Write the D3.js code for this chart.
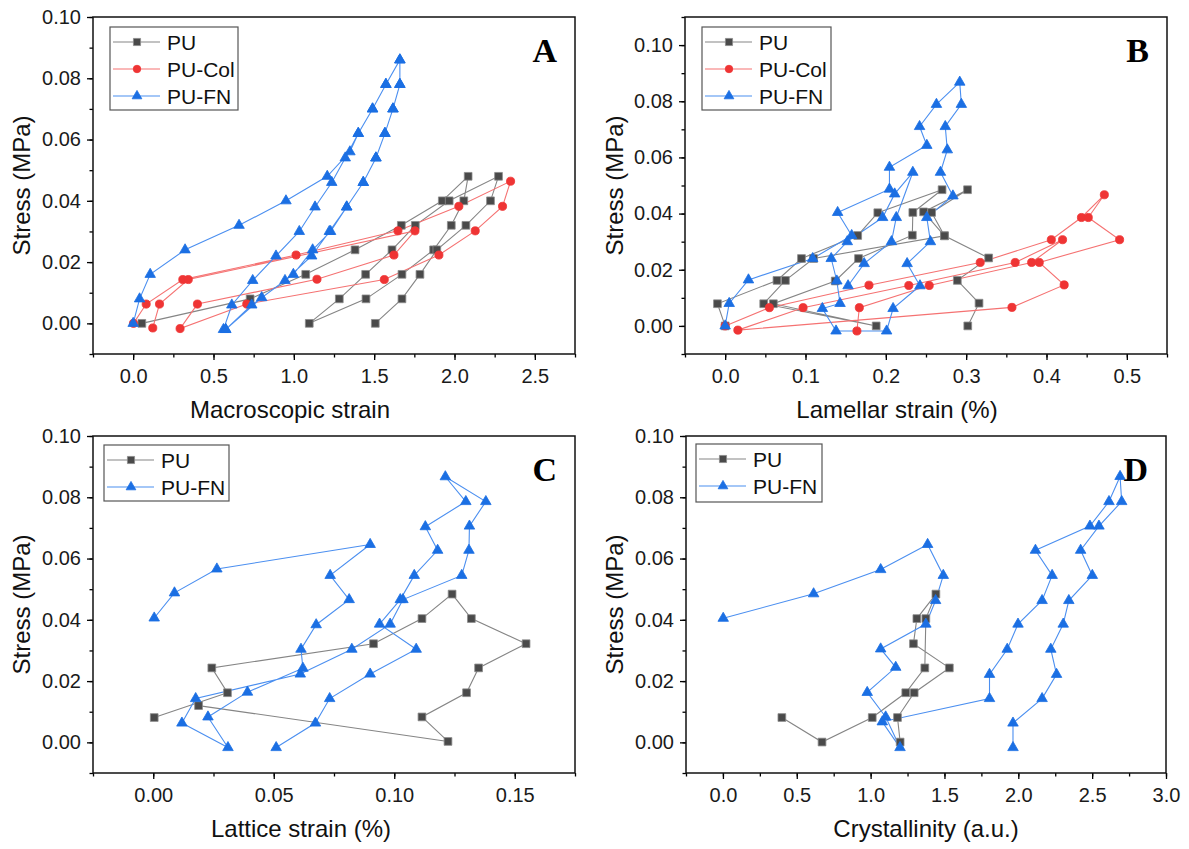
<!DOCTYPE html>
<html>
<head>
<meta charset="utf-8">
<script src="https://cdn.jsdelivr.net/npm/d3@7"></script>
<style>
body { margin: 0; background: #fff; }
text { font-family: Arial, "Liberation Sans", sans-serif; }
</style>
</head>
<body>
<svg id="fig" width="1189" height="849"></svg>
<script>
// ---- data: [x, stress] pairs, in drawing order ----
var puA = [[0.054,0],[0.728,0.008],[1.074,0.016],[1.381,0.024],[1.669,0.032],[1.924,0.040],[2.085,0.048],
	[2.058,0.040],[1.98,0.032],[1.87,0.024],[1.673,0.016],[1.449,0.008],[1.096,0],
	[1.283,0.008],[1.447,0.016],[1.611,0.024],[1.756,0.032],[1.967,0.040],[2.274,0.048],
	[2.224,0.040],[2.071,0.032],[1.89,0.024],[1.785,0.016],[1.673,0.008],[1.507,0]];
var colA = [[0.002,0],[0.081,0.0063],[0.309,0.0143],[1.014,0.0223],[1.648,0.0302],[2.027,0.0382],[2.349,0.0464],
	[2.299,0.0382],[2.129,0.0302],[1.903,0.0223],[1.563,0.0143],[0.707,0.0063],[0.292,-0.0017],
	[0.400,0.0063],[1.144,0.0144],[1.623,0.0223],[1.754,0.0302],[0.343,0.0143],[0.164,0.0063],[0.122,-0.0015]];
var fnA = [[0,0],[0.04,0.008],[0.106,0.016],[0.323,0.024],[0.659,0.032],[0.951,0.040],[1.208,0.048],[1.349,0.056],
	[1.401,0.062],[1.49,0.070],[1.573,0.078],[1.66,0.086],
	[1.66,0.078],[1.617,0.070],[1.567,0.062],[1.511,0.054],[1.432,0.046],[1.329,0.038],[1.229,0.030],
	[1.117,0.024],[0.997,0.016],[0.80,0.0084],[0.576,-0.002],
	[0.562,-0.002],[0.614,0.006],[0.744,0.014],[0.889,0.022],[1.034,0.030],[1.132,0.038],[1.236,0.046],
	[1.32,0.054],[1.401,0.062],[1.49,0.070],[1.573,0.078],[1.66,0.086],
	[1.66,0.078],[1.617,0.070],[1.567,0.062],[1.511,0.054],[1.432,0.046],[1.329,0.038],[1.221,0.030],
	[1.111,0.022],[0.945,0.014],[0.738,0.006],[0.576,-0.002]];

var puB = [[0,0],[-0.0096,0.0079],[0.0645,0.0162],[0.095,0.024],[0.165,0.0322],[0.190,0.0403],[0.270,0.0485],
	[0.2336,0.0404],[0.233,0.0323],[0.166,0.024],[0.137,0.016],[0.060,0.0079],[0.188,0],
	[0.048,0.0079],[0.075,0.0162],[0.110,0.024],[0.273,0.0321],[0.247,0.0406],[0.3017,0.0485],
	[0.257,0.0404],[0.273,0.0321],[0.328,0.0242],[0.289,0.0162],[0.316,0.0081],[0.302,0]];
var colB = [[0,0],[0.055,0.0065],[0.179,0.0145],[0.3175,0.0226],[0.406,0.0307],[0.4435,0.0386],[0.472,0.0467],
	[0.452,0.0386],[0.491,0.0307],[0.391,0.0226],[0.422,0.0146],[0.357,0.0066],[0.0158,-0.0015],
	[0.097,0.0065],[0.2286,0.0144],[0.361,0.0226],[0.42,0.0307],[0.3815,0.0226],[0.254,0.0144],[0.167,0.0065],[0.164,-0.0018]];
var fnB = [[0,0],[0.005,0.008],[0.029,0.0164],[0.109,0.024],[0.1575,0.0322],[0.140,0.0404],[0.2045,0.0487],
	[0.2045,0.0565],[0.251,0.0643],[0.242,0.071],[0.263,0.0789],[0.292,0.0868],[0.294,0.0789],[0.274,0.071],
	[0.2765,0.0627],[0.268,0.0547],[0.2835,0.0463],[0.251,0.0386],[0.2555,0.030],[0.2265,0.0222],
	[0.2425,0.0143],[0.209,0.0062],[0.201,-0.0018],[0.138,-0.0018],[0.121,0.0062],[0.143,0.008],
	[0.139,0.016],[0.132,0.024],[0.152,0.030],[0.196,0.0386],[0.211,0.047],[0.2336,0.0547],
	[0.213,0.0386],[0.207,0.030],[0.173,0.0222],[0.153,0.0143]];

var puC = [[0.0004,0.0081],[0.0308,0.0162],[0.0243,0.0243],[0.0914,0.0322],[0.1115,0.0404],[0.124,0.0484],
	[0.132,0.0404],[0.1547,0.0322],[0.135,0.0243],[0.130,0.0162],[0.1115,0.0083],[0.1223,0.0003],[0.0188,0.012]];
var fnC = [[0.051,-0.0017],[0.0673,0.0063],[0.0732,0.0143],[0.090,0.0223],[0.1091,0.0304],[0.0939,0.0386],
	[0.1025,0.0466],[0.1083,0.0545],[0.118,0.0627],[0.1129,0.0704],[0.1297,0.0786],[0.1212,0.0867],
	[0.138,0.0786],[0.1312,0.0706],[0.131,0.0627],[0.128,0.0545],[0.1036,0.0466],[0.0983,0.0386],
	[0.0824,0.0304],[0.061,0.0223],[0.0176,0.0143],[0.0119,0.0063],[0.031,-0.0017],[0.0227,0.0083],
	[0.0391,0.0164],[0.0621,0.0242],[0.0613,0.0304],[0.0676,0.0384],[0.0813,0.0466],[0.0734,0.0545],
	[0.090,0.0646],[0.0264,0.0566],[0.0088,0.0488],[0.0004,0.0406]];

var puD = [[0.399,0.0081],[0.671,0.0001],[1.011,0.0081],[1.238,0.0162],[1.367,0.0243],[1.374,0.0404],
	[1.442,0.0484],[1.313,0.0404],[1.29,0.0322],[1.533,0.0243],[1.295,0.0162],[1.182,0.0081],[1.2,0.0001]];
var fnD = [[0.002,0.0405],[0.614,0.0485],[1.068,0.0564],[1.386,0.0646],[1.492,0.0545],[1.44,0.0463],
	[1.374,0.0386],[1.068,0.0305],[1.17,0.0245],[0.977,0.0163],[1.102,0.0083],[1.199,-0.0017],[1.079,0.0067],
	[1.805,0.0143],[1.805,0.0222],[1.925,0.0304],[1.998,0.0386],[2.161,0.0463],[2.229,0.0545],[2.116,0.0627],
	[2.485,0.0706],[2.614,0.0786],[2.689,0.0868],[2.70,0.0786],[2.546,0.0706],[2.422,0.0627],[2.501,0.0545],
	[2.342,0.0463],[2.304,0.0386],[2.22,0.0304],[2.259,0.0222],[2.161,0.0143],[1.964,0.0063],[1.964,-0.0017]];

var seriesNames = ["PU", "PU-Col", "PU-FN"];
var xTitles = ["Macroscopic strain", "Lamellar strain (%)", "Lattice strain (%)", "Crystallinity (a.u.)"];
var panelLabels = ["A", "B", "C", "D"];
var yTickVals = [0, 0.02, 0.04, 0.06, 0.08, 0.10];

// ---- styles ----
var styles = {
	"PU": {line: "#858585", fill: "#4a4a4a", stroke: "#8c8c8c", shape: d3.symbolSquare, size: 60},
	"PU-Col": {line: "#f57272", fill: "#ef3434", stroke: "#ef3434", shape: d3.symbolCircle, size: 52},
	"PU-FN": {line: "#4b8ff0", fill: "#1b6fe3", stroke: "#1b6fe3", shape: d3.symbolTriangle, size: 48}
};

var panels = [
	{box: [93, 17, 575, 354], xDom: [-0.25, 2.75], yDom: [-0.01, 0.10], xMajor: d3.range(0, 2.51, 0.5), xMinor: 0.25,
		xFmt: ".1f", data: [puA, colA, fnA], names: [0, 1, 2], title: 0, titleX: 290, yTitleX: 22,
		legend: [110, 27, 128, 83]},
	{box: [685, 17, 1167, 354], xDom: [-0.05, 0.55], yDom: [-0.01, 0.11], xMajor: d3.range(0, 0.51, 0.1), xMinor: 0.05,
		xFmt: ".1f", data: [puB, colB, fnB], names: [0, 1, 2], title: 1, titleX: 897, yTitleX: 615,
		legend: [702, 27, 129, 83]},
	{box: [93, 436, 575, 773], xDom: [-0.025, 0.175], yDom: [-0.01, 0.10], xMajor: d3.range(0, 0.151, 0.05), xMinor: 0.025,
		xFmt: ".2f", data: [puC, fnC], names: [0, 2], title: 2, titleX: 301, yTitleX: 22,
		legend: [104, 445, 125, 56]},
	{box: [686, 436, 1166, 773], xDom: [-0.25, 3.0], yDom: [-0.01, 0.10], xMajor: d3.range(0, 3.01, 0.5), xMinor: 0.25,
		xFmt: ".1f", data: [puD, fnD], names: [0, 2], title: 3, titleX: 926, yTitleX: 615,
		legend: [696, 444, 126, 58]}
];

var svg = d3.select("#fig");

function minorVals(dom, step) {
	var out = [];
	var start = Math.ceil(dom[0] / step - 1e-6);
	for (var k = start; k * step <= dom[1] + 1e-9; k++) out.push(+(k * step).toFixed(6));
	return out;
}

panels.forEach(function(p, pi) {
	var x0 = p.box[0], y0 = p.box[1], x1 = p.box[2], y1 = p.box[3];
	var x = d3.scaleLinear().domain(p.xDom).range([x0, x1]);
	var y = d3.scaleLinear().domain(p.yDom).range([y1, y0]);
	var g = svg.append("g").attr("class", "panel");

	// minor ticks
	g.append("g")
		.attr("transform", "translate(0," + y1 + ")")
		.call(d3.axisBottom(x).tickValues(minorVals(p.xDom, p.xMinor)).tickSize(3.5).tickFormat(""))
		.call(function(a) { a.select(".domain").remove(); a.selectAll("line").attr("stroke-width", 1.3); });
	g.append("g")
		.attr("transform", "translate(" + x0 + ",0)")
		.call(d3.axisLeft(y).tickValues(minorVals(p.yDom, 0.01)).tickSize(3.5).tickFormat(""))
		.call(function(a) { a.select(".domain").remove(); a.selectAll("line").attr("stroke-width", 1.3); });

	// major ticks + labels
	g.append("g")
		.attr("transform", "translate(0," + y1 + ")")
		.call(d3.axisBottom(x).tickValues(p.xMajor).tickSize(6).tickPadding(9).tickFormat(d3.format(p.xFmt)))
		.call(function(a) {
			a.select(".domain").remove();
			a.selectAll("line").attr("stroke-width", 1.3);
			a.selectAll("text").attr("font-size", 20).attr("fill", "#1a1a1a")
				.style("font-family", "Arial, 'Liberation Sans', sans-serif");
		});
	g.append("g")
		.attr("transform", "translate(" + x0 + ",0)")
		.call(d3.axisLeft(y).tickValues(yTickVals).tickSize(6).tickPadding(6).tickFormat(d3.format(".2f")))
		.call(function(a) {
			a.select(".domain").remove();
			a.selectAll("line").attr("stroke-width", 1.3);
			a.selectAll("text").attr("font-size", 20).attr("fill", "#1a1a1a")
				.style("font-family", "Arial, 'Liberation Sans', sans-serif");
		});

	// frame
	g.append("rect")
		.attr("x", x0).attr("y", y0)
		.attr("width", x1 - x0).attr("height", y1 - y0)
		.attr("fill", "none").attr("stroke", "#111").attr("stroke-width", 1.5);

	// series
	var line = d3.line().x(function(d) { return x(d[0]); }).y(function(d) { return y(d[1]); });
	p.data.forEach(function(ser, si) {
		var st = styles[seriesNames[p.names[si]]];
		g.append("path")
			.datum(ser)
			.attr("d", line)
			.attr("fill", "none")
			.attr("stroke", st.line)
			.attr("stroke-width", 1.1);
	});
	p.data.forEach(function(ser, si) {
		var st = styles[seriesNames[p.names[si]]];
		var sym = d3.symbol().type(st.shape).size(st.size);
		g.selectAll(null)
			.data(ser)
			.enter().append("path")
			.attr("d", sym)
			.attr("transform", function(d) { return "translate(" + x(d[0]) + "," + y(d[1]) + ")"; })
			.attr("fill", st.fill)
			.attr("stroke", st.stroke)
			.attr("stroke-width", 0.8);
	});

	// axis titles
	g.append("text")
		.attr("x", p.titleX).attr("y", y1 + 64)
		.attr("text-anchor", "middle")
		.attr("font-size", 24).attr("fill", "#111")
		.text(xTitles[p.title]);
	g.append("text")
		.attr("transform", "translate(" + p.yTitleX + "," + ((y0 + y1) / 2) + ") rotate(-90)")
		.attr("text-anchor", "middle")
		.attr("dy", "0.35em")
		.attr("font-size", 24).attr("fill", "#111")
		.text("Stress (MPa)");

	// panel letter
	g.append("text")
		.attr("x", x1 - 18).attr("y", y0 + 45)
		.attr("text-anchor", "end")
		.style("font-family", "'Liberation Serif', 'Times New Roman', serif")
		.attr("font-weight", "bold")
		.attr("font-size", 34).attr("fill", "#000")
		.text(panelLabels[pi]);

	// legend
	var lg = p.legend;
	var leg = g.append("g").attr("transform", "translate(" + lg[0] + "," + lg[1] + ")");
	leg.append("rect")
		.attr("width", lg[2]).attr("height", lg[3])
		.attr("fill", "#fff").attr("stroke", "#555").attr("stroke-width", 1.2);
	p.names.forEach(function(ni, k) {
		var st = styles[seriesNames[ni]];
		var ry = 15 + k * 27;
		leg.append("line")
			.attr("x1", 3).attr("x2", 50).attr("y1", ry).attr("y2", ry)
			.attr("stroke", st.line).attr("stroke-width", 1.1);
		leg.append("path")
			.attr("d", d3.symbol().type(st.shape).size(st.size * 0.85))
			.attr("transform", "translate(27," + ry + ")")
			.attr("fill", st.fill).attr("stroke", st.stroke).attr("stroke-width", 0.8);
		leg.append("text")
			.attr("x", 57).attr("y", ry).attr("dy", "0.36em")
			.attr("font-size", 21).attr("fill", "#111")
			.text(seriesNames[ni]);
	});
});
</script>
</body>
</html>
